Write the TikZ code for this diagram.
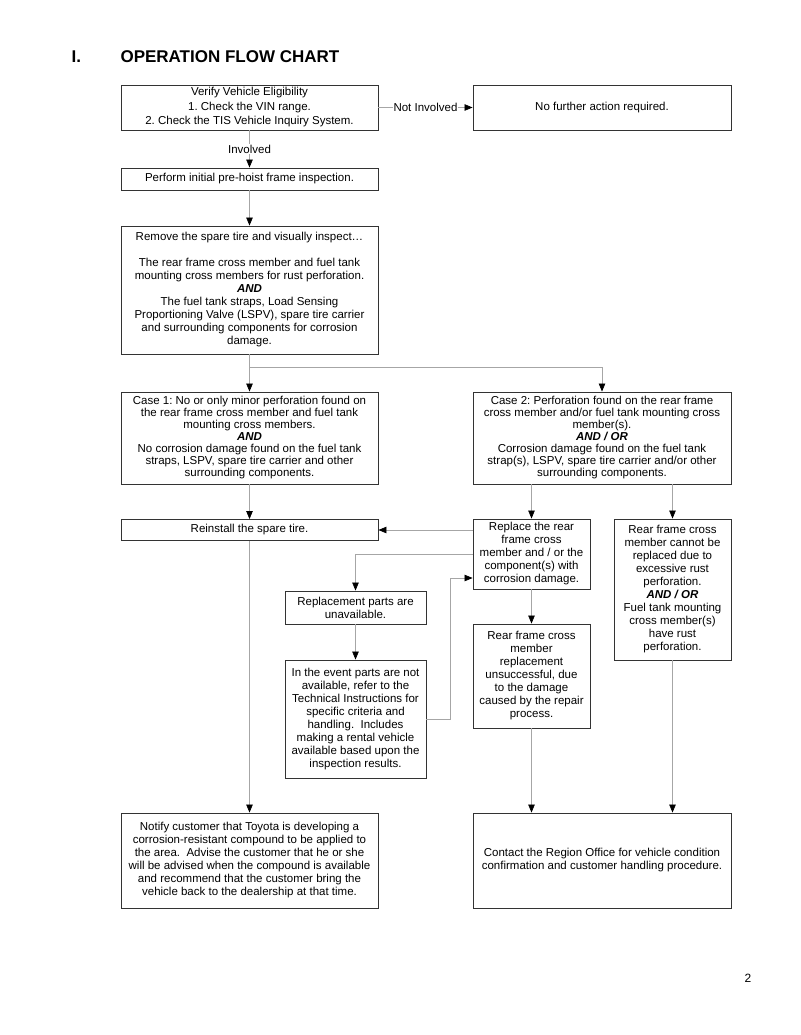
\documentclass[tikz,border=0pt]{standalone}
\usepackage{fontspec}
\setmainfont{Liberation Sans}
\frenchspacing
\usetikzlibrary{arrows.meta,positioning}
\definecolor{Wire}{HTML}{A6A6A6}
\definecolor{Frame}{HTML}{333333}
\tikzset{
  stepbox/.style={
    draw=Frame, line width=0.9pt, fill=white, align=center,
    inner sep=1pt, font=\fontsize{11.5}{13}\selectfont
  },
  wide/.style={stepbox, minimum width=257pt},
  narrow/.style={stepbox, minimum width=117pt},
  mid/.style={stepbox, minimum width=141pt},
  flow/.style={-{Triangle[length=8pt,width=6.5pt,color=black]}, line width=0.7pt, draw=Wire},
  tag/.style={fill=white, inner sep=1pt, font=\fontsize{11.5}{13}\selectfont}
}
\begin{document}
\begin{tikzpicture}[x=1pt,y=-1pt]
  \useasboundingbox (0,0) rectangle (800,1035);
  % heading
  \node[anchor=base west,font=\fontsize{17}{20}\bfseries\selectfont] (num) at (68,63) {I.};
  \node[anchor=base west,font=\fontsize{17}{20}\bfseries\selectfont] (title) at (117,63) {OPERATION FLOW CHART};
  \node[font=\fontsize{12}{14}\selectfont] (page) at (748,978) {2};
  % boxes
  \node[wide,minimum height=45pt,font=\fontsize{11.5}{14.5}\selectfont] (verify) at (249.5,107.5)
    {Verify Vehicle Eligibility\\1. Check the VIN range.\\2. Check the TIS Vehicle Inquiry System.};
  \node[wide,minimum width=258pt,minimum height=45pt] (nofurther) at (602,107.5) {No further action required.};
  \node[wide,minimum height=22pt] (perform) at (249.5,179) {Perform initial pre-hoist frame inspection.};
  \node[wide,minimum height=128pt] (remove) at (249.5,290)
    {Remove the spare tire and visually inspect\ldots\\[13pt]
     The rear frame cross member and fuel tank\\
     mounting cross members for rust perforation.\\
     \textbf{\textit{AND}}\\
     The fuel tank straps, Load Sensing\\
     Proportioning Valve (LSPV), spare tire carrier\\
     and surrounding components for corrosion\\
     damage.};
  \node[wide,minimum height=92pt,font=\fontsize{11.5}{12}\selectfont] (case1) at (249.5,438)
    {Case 1: No or only minor perforation found on\\
     the rear frame cross member and fuel tank\\
     mounting cross members.\\
     \textbf{\textit{AND}}\\
     No corrosion damage found on the fuel tank\\
     straps, LSPV, spare tire carrier and other\\
     surrounding components.};
  \node[wide,minimum width=258pt,minimum height=92pt,font=\fontsize{11.5}{12}\selectfont] (case2) at (602,438)
    {Case 2: Perforation found on the rear frame\\
     cross member and/or fuel tank mounting cross\\
     member(s).\\
     \textbf{\textit{AND / OR}}\\
     Corrosion damage found on the fuel tank\\
     strap(s), LSPV, spare tire carrier and/or other\\
     surrounding components.};
  \node[wide,minimum height=21pt] (reinstall) at (249.5,530) {Reinstall the spare tire.};
  \node[narrow,minimum height=70pt] (replace) at (531.5,554)
    {Replace the rear\\frame cross\\member and / or the\\component(s) with\\corrosion damage.};
  \node[narrow,minimum height=141pt] (cannot) at (672.5,589.5)
    {Rear frame cross\\member cannot be\\replaced due to\\excessive rust\\perforation.\\
     \textbf{\textit{AND / OR}}\\Fuel tank mounting\\cross member(s)\\have rust\\perforation.};
  \node[mid,minimum height=33pt] (parts) at (355.5,607.5) {Replacement parts are\\unavailable.};
  \node[mid,minimum height=118pt] (event) at (355.5,719)
    {In the event parts are not\\available, refer to the\\Technical Instructions for\\specific criteria and\\
     handling.\ \ Includes\\making a rental vehicle\\available based upon the\\inspection results.};
  \node[narrow,minimum height=104pt] (failed) at (531.5,676)
    {Rear frame cross\\member\\replacement\\unsuccessful, due\\to the damage\\caused by the repair\\process.};
  \node[wide,minimum height=95pt] (notify) at (249.5,860.5)
    {Notify customer that Toyota is developing a\\
     corrosion-resistant compound to be applied to\\
     the area.\ \ Advise the customer that he or she\\
     will be advised when the compound is available\\
     and recommend that the customer bring the\\
     vehicle back to the dealership at that time.};
  \node[wide,minimum width=258pt,minimum height=95pt] (region) at (602,860.5)
    {Contact the Region Office for vehicle condition\\
     confirmation and customer handling procedure.};
  % connectors
  \draw[flow] (verify) -- node[tag] {Not Involved} (nofurther);
  \draw[flow] (verify) -- node[tag] {Involved} (perform);
  \draw[flow] (perform) -- (remove);
  \draw[flow] (remove) -- (case1);
  \coordinate (fork) at (249.5,367);
  \draw[flow] (fork) -| (case2);
  \draw[flow] (case1) -- (reinstall);
  \draw[flow] (reinstall) -- (notify);
  \draw[flow] (replace.north |- case2.south) -- (replace);
  \draw[flow] (cannot.north |- case2.south) -- (cannot);
  \draw[flow] (replace.west |- reinstall.east) -- (reinstall);
  \draw[flow] (replace.west) -| (parts);
  \draw[flow] (parts) -- (event);
  \draw[flow] (event.east) -- ++(24,0) |- ([yshift=-24pt]replace.west);
  \draw[flow] (replace) -- (failed);
  \draw[flow] (failed) -- (failed.south |- region.north);
  \draw[flow] (cannot) -- (cannot.south |- region.north);
\end{tikzpicture}
\end{document}
